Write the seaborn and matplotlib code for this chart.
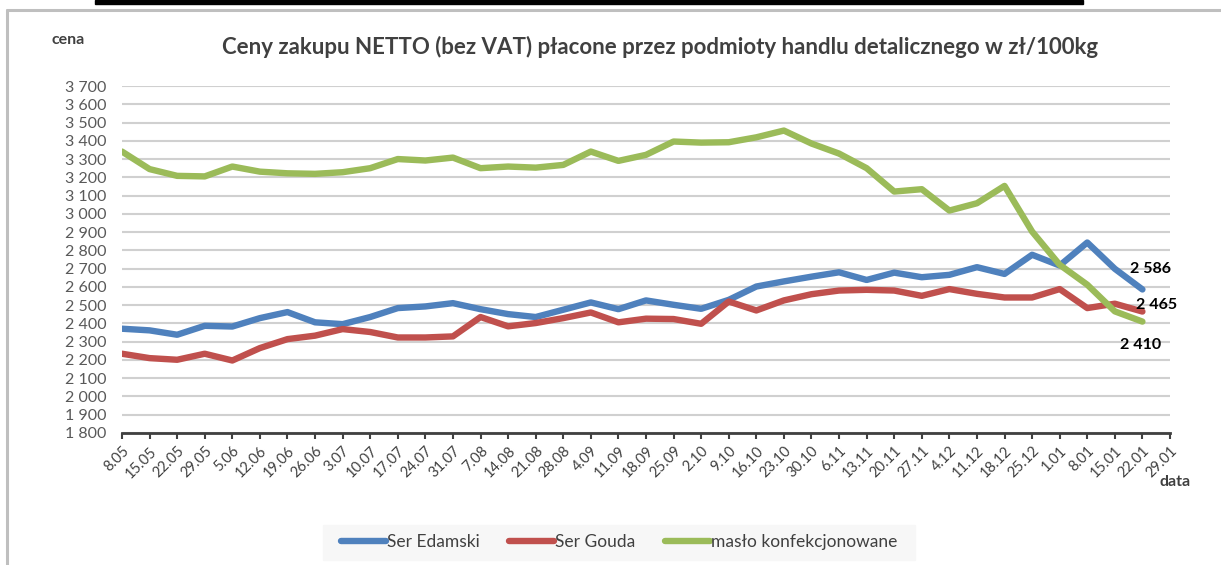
import matplotlib
matplotlib.use("Agg")
import matplotlib.pyplot as plt
import seaborn as sns
import pandas as pd
from matplotlib.lines import Line2D
from matplotlib.patches import Rectangle

# ---- data ----
dates = ['8.05', '15.05', '22.05', '29.05', '5.06', '12.06', '19.06', '26.06',
         '3.07', '10.07', '17.07', '24.07', '31.07', '7.08', '14.08', '21.08',
         '28.08', '4.09', '11.09', '18.09', '25.09', '2.10', '9.10', '16.10',
         '23.10', '30.10', '6.11', '13.11', '20.11', '27.11', '4.12', '11.12',
         '18.12', '25.12', '1.01', '8.01', '15.01', '22.01', '29.01']

ser_edamski = [2371, 2362, 2338, 2387, 2383, 2429, 2462, 2406, 2396, 2435, 2484,
               2493, 2511, 2478, 2451, 2435, 2475, 2515, 2478, 2526, 2502, 2480,
               2529, 2602, 2630, 2656, 2680, 2638, 2678, 2653, 2666, 2708, 2671,
               2776, 2717, 2843, 2699, 2586]
ser_gouda = [2234, 2210, 2201, 2234, 2197, 2265, 2314, 2333, 2369, 2353, 2323,
             2323, 2329, 2435, 2384, 2402, 2429, 2460, 2406, 2426, 2424, 2398,
             2520, 2471, 2526, 2560, 2580, 2584, 2580, 2551, 2588, 2562, 2542,
             2542, 2588, 2484, 2508, 2465]
maslo = [3341, 3245, 3208, 3205, 3259, 3231, 3222, 3219, 3228, 3250, 3300,
         3292, 3308, 3250, 3259, 3253, 3268, 3341, 3290, 3323, 3396, 3390,
         3392, 3419, 3456, 3385, 3330, 3250, 3122, 3135, 3018, 3058, 3153,
         2903, 2721, 2612, 2466, 2410]

series_names = ['Ser Edamski', 'Ser Gouda', 'masło konfekcjonowane']
colors = {'Ser Edamski': '#4F81BD', 'Ser Gouda': '#C0504D',
          'masło konfekcjonowane': '#9BBB59'}
end_labels = ['2 586', '2 465', '2 410']

rows = []
for name, vals in zip(series_names, [ser_edamski, ser_gouda, maslo]):
    for i, v in enumerate(vals):
        rows.append({'idx': i, 'cena': v, 'seria': name})
df = pd.DataFrame(rows)

# ---- style ----
sns.set_theme(style="white")
plt.rcParams['font.family'] = ['Lato', 'DejaVu Sans']
txt = '#404040'
tick_col = '#595959'

fig = plt.figure(figsize=(12.21, 5.65), dpi=100)
ax = fig.add_axes([122 / 1221, 1 - 433 / 565, 1048 / 1221, 347 / 565])

sns.lineplot(data=df, x='idx', y='cena', hue='seria', hue_order=series_names,
             palette=colors, linewidth=4.6, ax=ax, legend=False,
             solid_capstyle='round', solid_joinstyle='round', zorder=3)

ax.set_xlim(0, len(dates) - 1)
ax.set_ylim(1800, 3700)
yt = list(range(1800, 3701, 100))
ax.set_yticks(yt)
ax.set_yticklabels([f"{v:,}".replace(',', ' ') for v in yt], fontsize=11.5, color=tick_col)
ax.set_xticks(range(len(dates)))
ax.set_xticklabels(dates, rotation=45, ha='right', rotation_mode='anchor',
                   fontsize=10.5, color=txt)
ax.tick_params(axis='y', length=0, pad=11)
ax.tick_params(axis='x', length=4, width=1.5, color=txt, direction='out',
               bottom=True, pad=4)
ax.grid(axis='y', color='#d0d0d0', linewidth=1.5)
ax.grid(axis='x', visible=False)
for s in ['left', 'right', 'top']:
    ax.spines[s].set_visible(False)
ax.spines['bottom'].set_color(txt)
ax.spines['bottom'].set_linewidth(2)
ax.set_xlabel('')
ax.set_ylabel('')

# end value labels
offsets = [(6, 15), (10, 5), (-1, -17)]
for vals, lab, off in zip([ser_edamski, ser_gouda, maslo], end_labels, offsets):
    ax.annotate(lab, (len(vals) - 1, vals[-1]), xytext=off, textcoords='offset points',
                ha='center', va='center', fontsize=11.5, fontweight='bold',
                color='black', zorder=5)

# titles and axis names
fig.text(660 / 1221, 1 - 47 / 565,
         'Ceny zakupu NETTO (bez VAT) płacone przez podmioty handlu detalicznego w zł/100kg',
         ha='center', va='center', fontsize=16, fontweight='bold', color=txt)
fig.text(52 / 1221, 1 - 40 / 565, 'cena', ha='left', va='center',
         fontsize=11.5, fontweight='bold', color=txt)
fig.text(1160 / 1221, 1 - 482 / 565, 'data', ha='left', va='center',
         fontsize=11.5, fontweight='bold', color=txt)

# legend background and entries
fig.add_artist(Rectangle((323 / 1221, 1 - 560 / 565), 592 / 1221, 35 / 565,
                         transform=fig.transFigure, color='#f7f7f7', zorder=0))
handles = [Line2D([0], [0], color=colors[n], lw=4.6, solid_capstyle='round')
           for n in series_names]
leg = fig.legend(handles, series_names, loc='center', ncol=3,
                 bbox_to_anchor=(619 / 1221, 1 - 542 / 565), frameon=False,
                 fontsize=12.5, handlelength=2.6, handletextpad=0.05,
                 columnspacing=1.7)
for t in leg.get_texts():
    t.set_color(txt)

# outer frame pieces from the screenshot
fig.add_artist(Rectangle((95 / 1221, 1 - 4 / 565), 988 / 1221, 4 / 565,
                         transform=fig.transFigure, color='black'))
fig.add_artist(Line2D([7 / 1221, 1], [1 - 10 / 565, 1 - 10 / 565],
                      transform=fig.transFigure, color='#bfbfbf', lw=2.2))
fig.add_artist(Line2D([7 / 1221, 7 / 1221], [0, 1 - 10 / 565],
                      transform=fig.transFigure, color='#bfbfbf', lw=2.2))

fig.savefig('out.png', dpi=100)
